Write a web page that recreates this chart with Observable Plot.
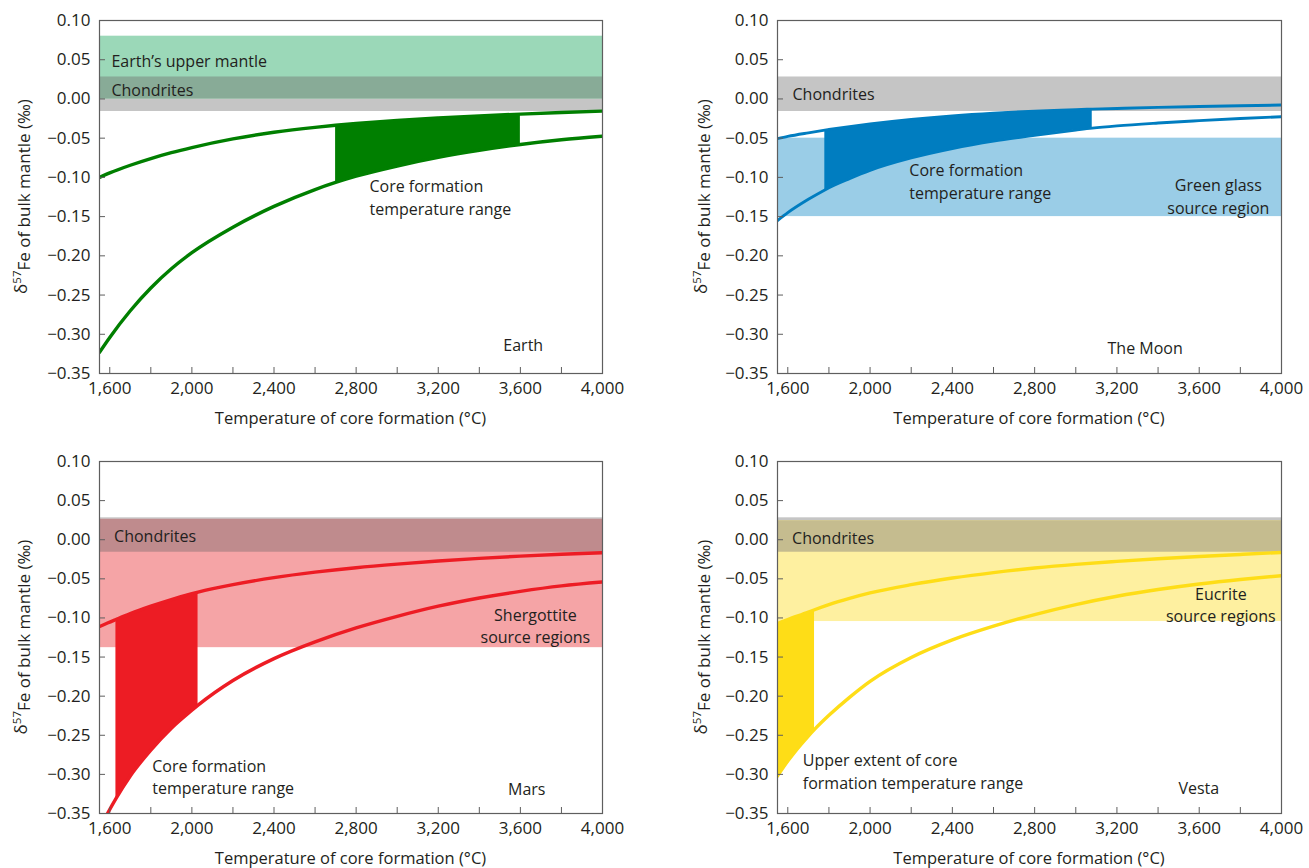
<!DOCTYPE html>
<html>
<head>
<meta charset="utf-8">
<script src="https://cdn.jsdelivr.net/npm/d3@7"></script>
<script src="https://cdn.jsdelivr.net/npm/@observablehq/plot@0.6"></script>
<style>
  body { margin: 0; background: #fff; }
  #wrap { position: relative; width: 1309px; height: 868px; overflow: hidden; background: #fff; }
  .panel { position: absolute; }
</style>
</head>
<body>
<div id="wrap"></div>
<script>
// ---------- Data ----------
const xTicks = [1600, 1800, 2000, 2200, 2400, 2600, 2800, 3000, 3200, 3400, 3600, 3800, 4000];
const xLabelTicks = [1600, 2000, 2400, 2800, 3200, 3600, 4000];
const yTicks = [-0.35, -0.30, -0.25, -0.20, -0.15, -0.10, -0.05, 0.00, 0.05, 0.10];

const chondrites = [-0.016, 0.028];

// Earth
const earthT     = [1550, 1600, 1700, 1800, 1900, 2000, 2200, 2400, 2600, 2700, 2800, 3000, 3200, 3400, 3600, 3800, 4000];
const earthUpper = [-0.100, -0.0943, -0.0845, -0.076, -0.0685, -0.062, -0.051, -0.0425, -0.0362, -0.0336, -0.0313, -0.0274, -0.0243, -0.0216, -0.0193, -0.0173, -0.0155];
const earthLower = [-0.323, -0.304, -0.270, -0.241, -0.2165, -0.196, -0.1635, -0.137, -0.1155, -0.1065, -0.0985, -0.0855, -0.0745, -0.0655, -0.058, -0.052, -0.0475];
const earthCore = [2700, 3600];
const earthMantle = [0.0, 0.080];

// Moon
const moonT     = [1550, 1600, 1700, 1780, 1800, 1900, 2000, 2200, 2400, 2600, 2800, 3000, 3080, 3200, 3400, 3600, 3800, 4000];
const moonUpper = [-0.0506, -0.0478, -0.0432, -0.0398, -0.039, -0.0353, -0.032, -0.0262, -0.0216, -0.0181, -0.0155, -0.0137, -0.013, -0.0121, -0.0107, -0.0097, -0.0087, -0.0078];
const moonLower = [-0.155, -0.145, -0.128, -0.116, -0.1132, -0.1015, -0.091, -0.0752, -0.0632, -0.0538, -0.0465, -0.0397, -0.0372, -0.0343, -0.0307, -0.0277, -0.0249, -0.0226];
const moonCore = [1780, 3080];
const moonGreenGlass = [-0.150, -0.050];

// Mars
const marsT     = [1550, 1589, 1630, 1700, 1800, 1900, 2000, 2030, 2200, 2400, 2600, 2800, 3000, 3200, 3400, 3600, 3800, 4000];
const marsUpper = [-0.111, -0.1065, -0.102, -0.0945, -0.085, -0.0765, -0.069, -0.067, -0.0575, -0.0485, -0.0415, -0.0358, -0.0312, -0.0272, -0.0238, -0.021, -0.0186, -0.0166];
const marsLower = [-0.3695, -0.350, -0.331, -0.302, -0.269, -0.241, -0.218, -0.2115, -0.180, -0.152, -0.1306, -0.1128, -0.098, -0.085, -0.0745, -0.066, -0.059, -0.054];
const marsCore = [1630, 2030];
const marsShergottite = [-0.138, 0.026];

// Vesta
const vestaT     = [1550, 1600, 1700, 1730, 1800, 1900, 2000, 2200, 2400, 2600, 2800, 3000, 3200, 3400, 3600, 3800, 4000];
const vestaUpper = [-0.107, -0.102, -0.0925, -0.0895, -0.083, -0.075, -0.068, -0.0575, -0.049, -0.042, -0.0362, -0.0315, -0.0277, -0.0243, -0.0214, -0.0188, -0.0163];
const vestaLower = [-0.302, -0.283, -0.251, -0.2425, -0.2245, -0.2015, -0.181, -0.1505, -0.128, -0.1105, -0.0957, -0.0829, -0.0723, -0.0637, -0.0566, -0.0508, -0.046];
const vestaCore = [1550, 1730];
const vestaEucrite = [-0.1046, 0.0243];

// ---------- Rendering ----------
const GREY = "#c5c5c5";
const FRAME = "#5e5e5e";
const INK = "#231f20";
const FONT = "'Open Sans', 'Noto Sans', sans-serif";
const wrap = document.getElementById("wrap");

function makePanel(p) {
  const fw = p.width - p.mL - p.mR;
  const fh = p.height - p.mT - p.mB;
  const rows = p.T.map((t, i) => ({T: t, hi: p.upper[i], lo: p.lower[i]}));
  const coreRows = rows.filter(d => d.T >= p.core[0] && d.T <= p.core[1]);
  const marks = [];
  marks.push(Plot.rect([chondrites], {y1: d => d[0], y2: d => d[1], fill: GREY}));
  if (p.source) {
    marks.push(Plot.rect([p.source], {y1: d => d[0], y2: d => d[1], fill: p.sourceColor}));
    const ov = [Math.max(p.source[0], chondrites[0]), Math.min(p.source[1], chondrites[1])];
    if (ov[1] > ov[0]) marks.push(Plot.rect([ov], {y1: d => d[0], y2: d => d[1], fill: p.overlapColor}));
  }
  marks.push(Plot.areaY(coreRows, {x: "T", y1: "lo", y2: "hi", fill: p.color, curve: "monotone-x"}));
  marks.push(Plot.line(rows, {x: "T", y: "hi", stroke: p.color, strokeWidth: p.sw, curve: "monotone-x", clip: true}));
  marks.push(Plot.line(rows, {x: "T", y: "lo", stroke: p.color, strokeWidth: p.sw, curve: "monotone-x", clip: true}));
  marks.push(Plot.tickX(xTicks, {x: d => d, insetTop: fh - 6, stroke: FRAME, strokeWidth: 1}));
  marks.push(Plot.tickY(yTicks, {y: d => d, insetRight: fw - 6, stroke: FRAME, strokeWidth: 1}));
  marks.push(Plot.axisX({ticks: xLabelTicks, tickFormat: d3.format(","), tickSize: 0, tickPadding: 8, label: null, fill: INK, fontSize: 17}));
  marks.push(Plot.axisY({ticks: yTicks, tickFormat: d3.format(".2f"), tickSize: 0, tickPadding: 9, label: null, fill: INK, fontSize: 17}));
  const startLabels = p.labels.filter(d => d.anchor === "start");
  const midLabels = p.labels.filter(d => d.anchor === "middle");
  marks.push(Plot.text(startLabels, {x: "x", y: "y", text: "text", textAnchor: "start", lineAnchor: "middle", lineHeight: 1.4, fontSize: 16, fill: INK}));
  marks.push(Plot.text(midLabels, {x: "x", y: "y", text: "text", textAnchor: "middle", lineAnchor: "middle", lineHeight: 1.4, fontSize: 16, fill: INK}));
  marks.push(Plot.frame({stroke: FRAME, strokeWidth: 1.2}));

  const svg = Plot.plot({
    width: p.width, height: p.height,
    marginLeft: p.mL, marginRight: p.mR, marginTop: p.mT, marginBottom: p.mB,
    x: {domain: [1550, 4000]},
    y: {domain: [-0.35, 0.10]},
    style: {fontFamily: FONT, fontSize: "16px", color: INK, background: "transparent", overflow: "visible"},
    marks
  });
  const s = d3.select(svg);
  // x-axis title
  s.append("text")
    .attr("x", p.mL + fw / 2).attr("y", p.mT + fh + 45)
    .attr("text-anchor", "middle").attr("dy", "0.35em")
    .attr("font-size", 16.5).attr("fill", INK).attr("font-family", FONT)
    .text("Temperature of core formation (°C)");
  // y-axis title with superscript
  const yt = s.append("text")
    .attr("transform", `translate(${p.yLabelX},${p.mT + fh / 2}) rotate(-90)`)
    .attr("text-anchor", "middle").attr("dy", "0.35em")
    .attr("font-size", 17).attr("fill", INK).attr("font-family", FONT);
  yt.append("tspan").text("δ");
  yt.append("tspan").attr("font-size", 11.5).attr("dy", "-0.5em").text("57");
  yt.append("tspan").attr("dy", "0.5em").text("Fe of bulk mantle (‰)");

  const div = document.createElement("div");
  div.className = "panel";
  div.style.left = p.left + "px";
  div.style.top = p.top + "px";
  div.appendChild(svg);
  wrap.appendChild(div);
}

makePanel({
  left: 0, top: 0, width: 640, height: 434, mL: 99, mR: 38, mT: 20, mB: 61, yLabelX: 21,
  T: earthT, upper: earthUpper, lower: earthLower, core: earthCore,
  color: "#007f00", sw: 3.4,
  source: earthMantle, sourceColor: "#9bd8b8", overlapColor: "#88ab97",
  labels: [
    {x: 1608, y: 0.050, text: "Earth’s upper mantle", anchor: "start"},
    {x: 1608, y: 0.013, text: "Chondrites", anchor: "start"},
    {x: 2865, y: -0.124, text: "Core formation\ntemperature range", anchor: "start"},
    {x: 3614, y: -0.312, text: "Earth", anchor: "middle"}
  ]
});

makePanel({
  left: 677, top: 0, width: 632, height: 434, mL: 100, mR: 28, mT: 20, mB: 61, yLabelX: 24,
  T: moonT, upper: moonUpper, lower: moonLower, core: moonCore,
  color: "#007dc0", sw: 2.9,
  source: moonGreenGlass, sourceColor: "#9acde7", overlapColor: "#9acde7",
  labels: [
    {x: 1623, y: 0.008, text: "Chondrites", anchor: "start"},
    {x: 2191, y: -0.104, text: "Core formation\ntemperature range", anchor: "start"},
    {x: 3693, y: -0.123, text: "Green glass\nsource region", anchor: "middle"},
    {x: 3337, y: -0.316, text: "The Moon", anchor: "middle"}
  ]
});

makePanel({
  left: 0, top: 441, width: 640, height: 427, mL: 99, mR: 38, mT: 20, mB: 55, yLabelX: 21,
  T: marsT, upper: marsUpper, lower: marsLower, core: marsCore,
  color: "#ed1c24", sw: 3.4,
  source: marsShergottite, sourceColor: "#f5a4a6", overlapColor: "#bf8b8d",
  labels: [
    {x: 1621, y: 0.006, text: "Chondrites", anchor: "start"},
    {x: 3673, y: -0.109, text: "Shergottite\nsource regions", anchor: "middle"},
    {x: 1807, y: -0.302, text: "Core formation\ntemperature range", anchor: "start"},
    {x: 3631, y: -0.317, text: "Mars", anchor: "middle"}
  ]
});

makePanel({
  left: 677, top: 441, width: 632, height: 427, mL: 100, mR: 28, mT: 20, mB: 55, yLabelX: 24,
  T: vestaT, upper: vestaUpper, lower: vestaLower, core: vestaCore,
  color: "#fedd17", sw: 3.4,
  source: vestaEucrite, sourceColor: "#fef0a0", overlapColor: "#c5bc8f",
  labels: [
    {x: 1621, y: 0.004, text: "Chondrites", anchor: "start"},
    {x: 3705, y: -0.082, text: "Eucrite\nsource regions", anchor: "middle"},
    {x: 1673, y: -0.295, text: "Upper extent of core\nformation temperature range", anchor: "start"},
    {x: 3598, y: -0.316, text: "Vesta", anchor: "middle"}
  ]
});
</script>
</body>
</html>
